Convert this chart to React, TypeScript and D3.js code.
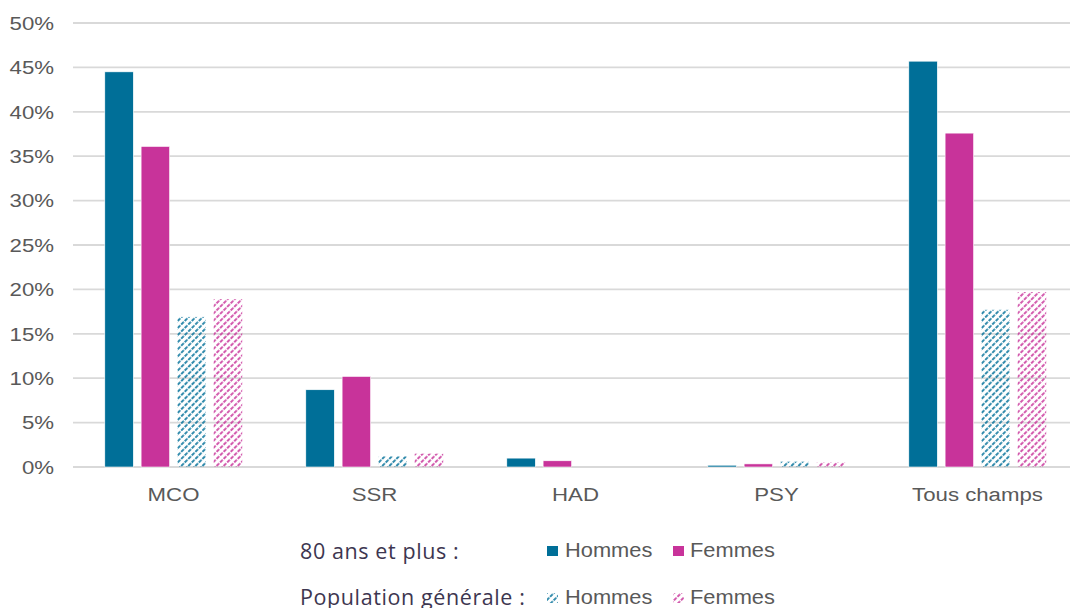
import React from "react";
import * as d3 from "d3";

const categories = ["MCO", "SSR", "HAD", "PSY", "Tous champs"];
const seriesKeys = ["h80", "f80", "hPop", "fPop"];
const hommes80 = [44.5, 8.7, 1.0, 0.2, 45.7];
const femmes80 = [36.1, 10.2, 0.7, 0.35, 37.6];
const hommesPop = [16.9, 1.2, 0, 0.6, 17.7];
const femmesPop = [18.9, 1.5, 0, 0.5, 19.7];
const yTicks = [0, 5, 10, 15, 20, 25, 30, 35, 40, 45, 50];

const BLUE = "#006f98";
const PINK = "#c8339a";
const GRID = "#d9d9d9";
const TXT = "#595959";

export default function App() {
  const W = 1070, H = 608;
  const y = d3.scaleLinear().domain([0, 50]).range([467, 23]);
  const x = d3.scaleBand<string>().domain(categories).range([73, 1078]).paddingInner(0).paddingOuter(0);
  const xi = d3.scaleBand<string>().domain(seriesKeys).range([0, x.bandwidth()]).paddingInner(0.215).paddingOuter(0.876);
  const values: Record<string, number[]> = { h80: hommes80, f80: femmes80, hPop: hommesPop, fPop: femmesPop };
  const fills: Record<string, string> = { h80: BLUE, f80: PINK, hPop: "url(#hatchBlue)", fPop: "url(#hatchPink)" };
  const axisFont = "'Liberation Sans', Arial, sans-serif";
  const legFont = "'Open Sans', Lato, sans-serif";

  const legendItems = [
    { label: "Hommes", fill: BLUE, sx: 547, tx: 565, row: 0 },
    { label: "Femmes", fill: PINK, sx: 673, tx: 690, row: 0 },
    { label: "Hommes", fill: "url(#hatchBlue)", sx: 547, tx: 565, row: 1 },
    { label: "Femmes", fill: "url(#hatchPink)", sx: 673, tx: 690, row: 1 },
  ];

  return (
    <div style={{ position: "absolute", left: 0, top: 0 }}>
      <svg width={W} height={H} style={{ display: "block", background: "#fff" }}>
        <defs>
          <pattern id="hatchBlue" patternUnits="userSpaceOnUse" width="5" height="5" patternTransform="rotate(45)">
            <line x1="1" y1="0" x2="1" y2="5" stroke={BLUE} strokeWidth="1.6" strokeDasharray="3 1.2" />
          </pattern>
          <pattern id="hatchPink" patternUnits="userSpaceOnUse" width="5" height="5" patternTransform="rotate(45)">
            <line x1="1" y1="0" x2="1" y2="5" stroke={PINK} strokeWidth="1.6" strokeDasharray="3 1.2" />
          </pattern>
        </defs>
        {yTicks.map((t) => (
          <g key={t}>
            <line x1={73} x2={1078} y1={y(t)} y2={y(t)} stroke={GRID} strokeWidth={1.8} />
            <text
              transform={`translate(54,${y(t) + 6.8}) scale(1.17,1)`}
              textAnchor="end"
              fontFamily={axisFont}
              fontSize={19}
              fill={TXT}
            >
              {t}%
            </text>
          </g>
        ))}
        {categories.map((c, ci) => (
          <g key={c} transform={`translate(${x(c)},0)`}>
            {seriesKeys.map((k) => {
              const v = values[k][ci];
              if (v <= 0) return null;
              return (
                <rect
                  key={k}
                  x={xi(k)}
                  y={y(v)}
                  width={xi.bandwidth()}
                  height={y(0) - y(v)}
                  fill={fills[k]}
                  stroke={k.endsWith("80") ? "#ffffff" : "none"}
                  strokeWidth={0.6}
                />
              );
            })}
            <text
              transform={`translate(${x.bandwidth() / 2},501) scale(1.17,1)`}
              textAnchor="middle"
              fontFamily={axisFont}
              fontSize={19}
              fill={TXT}
            >
              {c}
            </text>
          </g>
        ))}
        <g fontFamily={legFont} fontSize={21.5} fill="#3d3650" letterSpacing={0.6}>
          <text x={300} y={559}>80 ans et plus :</text>
          <text x={300} y={605}>Population générale :</text>
        </g>
        {legendItems.map((d, i) => (
          <g key={i}>
            <rect x={d.sx} y={546 + d.row * 47} width={11} height={10} fill={d.fill} />
            <text
              transform={`translate(${d.tx},${557 + d.row * 47}) scale(1.12,1)`}
              fontFamily={axisFont}
              fontSize={19.5}
              fill={TXT}
            >
              {d.label}
            </text>
          </g>
        ))}
      </svg>
    </div>
  );
}
